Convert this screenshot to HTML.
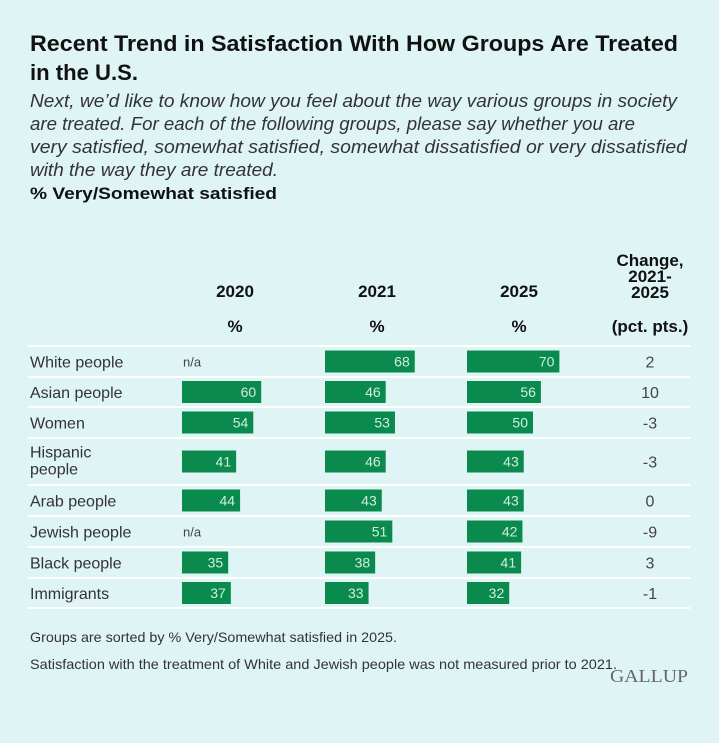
<!DOCTYPE html>
<html><head><meta charset="utf-8"><style>
html,body{margin:0;padding:0;background:#dff4f5;}
svg{display:block;font-family:"Liberation Sans",Arial,sans-serif;}
</style></head><body>
<svg id="chart" width="719" height="743" viewBox="0 0 719 743">
<rect width="719" height="743" fill="#dff4f5"/>
<text x="30" y="51" font-size="22" font-weight="bold" fill="#111" textLength="648" lengthAdjust="spacingAndGlyphs">Recent Trend in Satisfaction With How Groups Are Treated</text>
<text x="30" y="80" font-size="22" font-weight="bold" fill="#111" textLength="108" lengthAdjust="spacingAndGlyphs">in the U.S.</text>
<g font-size="18" font-style="italic" fill="#333">
<text x="30" y="107" textLength="647" lengthAdjust="spacingAndGlyphs">Next, we’d like to know how you feel about the way various groups in society</text>
<text x="30" y="130" textLength="605" lengthAdjust="spacingAndGlyphs">are treated. For each of the following groups, please say whether you are</text>
<text x="30" y="153" textLength="657" lengthAdjust="spacingAndGlyphs">very satisfied, somewhat satisfied, somewhat dissatisfied or very dissatisfied</text>
<text x="30" y="176" textLength="248" lengthAdjust="spacingAndGlyphs">with the way they are treated.</text>
</g>
<text x="30" y="199" font-size="17" font-weight="bold" fill="#111" textLength="247" lengthAdjust="spacingAndGlyphs">% Very/Somewhat satisfied</text>
<g font-size="17" font-weight="bold" fill="#111" text-anchor="middle">
<text x="235" y="297">2020</text>
<text x="377" y="297">2021</text>
<text x="519" y="297">2025</text>
<text x="235" y="332">%</text><text x="377" y="332">%</text><text x="519" y="332">%</text>
<text x="650" y="266">Change,</text>
<text x="650" y="282">2021-</text>
<text x="650" y="298">2025</text>
<text x="650" y="332">(pct. pts.)</text>
</g>
<g id="rows"></g>
<g font-size="14" fill="#333">
<text x="30" y="642" textLength="367" lengthAdjust="spacingAndGlyphs">Groups are sorted by % Very/Somewhat satisfied in 2025.</text>
<text x="30" y="669" textLength="587" lengthAdjust="spacingAndGlyphs">Satisfaction with the treatment of White and Jewish people was not measured prior to 2021.</text>
</g>
<text x="688" y="682" text-anchor="end" font-family="Liberation Serif,serif" font-size="18" fill="#666" textLength="78" lengthAdjust="spacingAndGlyphs">GALLUP</text>
</svg>
<script>
const groups = ["White people","Asian people","Women","Hispanic people","Arab people","Jewish people","Black people","Immigrants"];
const v2020 = [null,60,54,41,44,null,35,37];
const v2021 = [68,46,53,46,43,51,38,33];
const v2025 = [70,56,50,43,43,42,41,32];
const changes = ["2","10","-3","-3","0","-9","3","-1"];
const NS="http://www.w3.org/2000/svg";
const g=document.getElementById('rows');
const colX=[182,325,467];
const scale=1.32;
const rowTops=[346,377,407,438,485,516,547,578];
const rowBottoms=[377,407,438,485,516,547,578,608];
function mk(tag,attrs,txt){const e=document.createElementNS(NS,tag);for(const k in attrs)e.setAttribute(k,attrs[k]);if(txt!=null)e.textContent=txt;g.appendChild(e);return e;}
const sep0=mk('line',{x1:28,x2:690,y1:346,y2:346,stroke:'#fff','stroke-width':2});


groups.forEach((name,i)=>{
  const top=rowTops[i], bot=rowBottoms[i], cy=(top+bot)/2;
  const sep=mk('line',{x1:28,x2:690,y1:bot,y2:bot,stroke:'#fff','stroke-width':2});
  
  
  if(name==="Hispanic people"){
    const t1=mk('text',{x:30,y:cy-4,'font-size':16,fill:'#333'},"Hispanic");
    
    
    const t2=mk('text',{x:30,y:cy+13,'font-size':16,fill:'#333'},"people");
    
    
  } else {
    const t=mk('text',{x:30,y:cy+6,'font-size':16,fill:'#333'},name);
    
    
  }
  [v2020,v2021,v2025].forEach((arr,c)=>{
    const v=arr[i];
    if(v==null){
      const na=mk('text',{x:colX[c]+1,y:cy+5,'font-size':13,fill:'#444'},"n/a");
      
      
      return;
    }
    const w=v*scale;
    const r=mk('rect',{x:colX[c],y:cy-11,width:w,height:22,fill:'#0b8a4e'});
    
    
    const vl=mk('text',{x:colX[c]+w-5,y:cy+5,'font-size':14,fill:'#cfeedd','text-anchor':'end'},String(v));
    
    
  });
  const ch=mk('text',{x:650,y:cy+6,'font-size':16,fill:'#444','text-anchor':'middle'},changes[i]);
  
  
});
</script>
</body></html>
